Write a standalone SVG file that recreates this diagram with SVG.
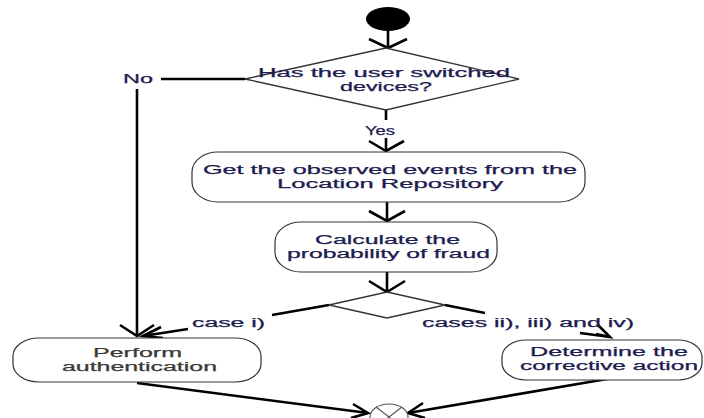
<svg xmlns="http://www.w3.org/2000/svg" width="704" height="418" viewBox="0 0 704 418">
<style>
.box{fill:#fff;stroke:#333;stroke-width:1.2}
.dia{fill:#fff;stroke:#333;stroke-width:1.3}
.con{fill:none;stroke:#000;stroke-width:2.6}
.ah{fill:none;stroke:#000;stroke-width:2.6;stroke-linejoin:miter}
.t{font-family:"Liberation Sans",Arial,sans-serif;font-size:12px;fill:#1c1c50;stroke:#1c1c50;stroke-width:0.25}
.g{fill:#3a3a3a;stroke:#3a3a3a}
</style>
<rect width="704" height="418" fill="#fff"/>
<g id="connectors">
<path class="con" d="M388,30 L388,48"/>
<polyline class="ah" points="369,39 388,48 407,39"/>
<path class="con" d="M245,79 L161,79 M137,89 L137,336"/>
<polyline class="ah" points="120,325 137,336 154,325"/>
<path class="con" d="M386,110 L386,120 M386,138 L386,151"/>
<polyline class="ah" points="369,141 386,151 404,141"/>
<path class="con" d="M387,202 L387,221"/>
<polyline class="ah" points="369,211 387,221 405,211"/>
<path class="con" d="M387,272 L387,292"/>
<polyline class="ah" points="369,281 387,292 405,281"/>
<path class="con" d="M329,305 L272,315 M188,329 L143,336"/>
<polyline class="ah" points="161,327 143,336 163,338"/>
<path class="con" d="M445,305 L485,313 M596,334 L610,337"/>
<polyline class="ah" points="580,333 610,337 598,325"/>
<path class="con" d="M137,383 L368,413"/>
<polyline class="ah" points="353,404 368,413 351,418"/>
<path class="con" d="M607,379 L408,413"/>
<polyline class="ah" points="423,403 408,413 425,418"/>
</g>
<g id="start">
<ellipse cx="388" cy="19" rx="22" ry="12" fill="#000"/>
</g>
<g id="decision1">
<polygon class="dia" points="245,79 386,48 519,79 386,110"/>
<text class="t" x="258" y="77" textLength="252" lengthAdjust="spacingAndGlyphs">Has the user switched</text>
<text class="t" x="340" y="91" textLength="92" lengthAdjust="spacingAndGlyphs">devices?</text>
</g>
<g id="label-no"><text class="t" x="123" y="83" textLength="30" lengthAdjust="spacingAndGlyphs">No</text></g>
<g id="label-yes"><text class="t" x="365" y="135" textLength="30" lengthAdjust="spacingAndGlyphs">Yes</text></g>
<g id="get-events">
<rect class="box" x="192" y="152" width="393" height="50" rx="26" ry="20"/>
<text class="t" x="203" y="174" textLength="374" lengthAdjust="spacingAndGlyphs">Get the observed events from the</text>
<text class="t" x="277" y="188" textLength="226" lengthAdjust="spacingAndGlyphs">Location Repository</text>
</g>
<g id="calculate">
<rect class="box" x="275" y="222" width="222" height="50" rx="26" ry="20"/>
<text class="t" x="315" y="244" textLength="145" lengthAdjust="spacingAndGlyphs">Calculate the</text>
<text class="t" x="287" y="258" textLength="203" lengthAdjust="spacingAndGlyphs">probability of fraud</text>
</g>
<g id="decision2">
<polygon class="dia" points="329,305 387,292 445,305 387,318"/>
</g>
<g id="label-case1"><text class="t" x="192" y="327" textLength="73" lengthAdjust="spacingAndGlyphs">case i)</text></g>
<g id="label-cases"><text class="t" x="422" y="327" textLength="212" lengthAdjust="spacingAndGlyphs">cases ii), iii) and iv)</text></g>
<g id="perform-auth">
<rect class="box" x="13" y="338" width="248" height="44" rx="26" ry="18"/>
<text class="t g" x="93" y="357" textLength="89" lengthAdjust="spacingAndGlyphs">Perform</text>
<text class="t g" x="62" y="371" textLength="155" lengthAdjust="spacingAndGlyphs">authentication</text>
</g>
<g id="corrective">
<rect class="box" x="502" y="340" width="200" height="40" rx="24" ry="17"/>
<text class="t" x="530" y="356" textLength="158" lengthAdjust="spacingAndGlyphs">Determine the</text>
<text class="t" x="520" y="370" textLength="178" lengthAdjust="spacingAndGlyphs">corrective action</text>
</g>
<g id="end">
<ellipse cx="389" cy="417" rx="19" ry="13" fill="#fff" stroke="#555" stroke-width="1.2"/>
<path d="M376,407 L402,427 M402,407 L376,427" stroke="#555" stroke-width="1.2"/>
</g>
</svg>
